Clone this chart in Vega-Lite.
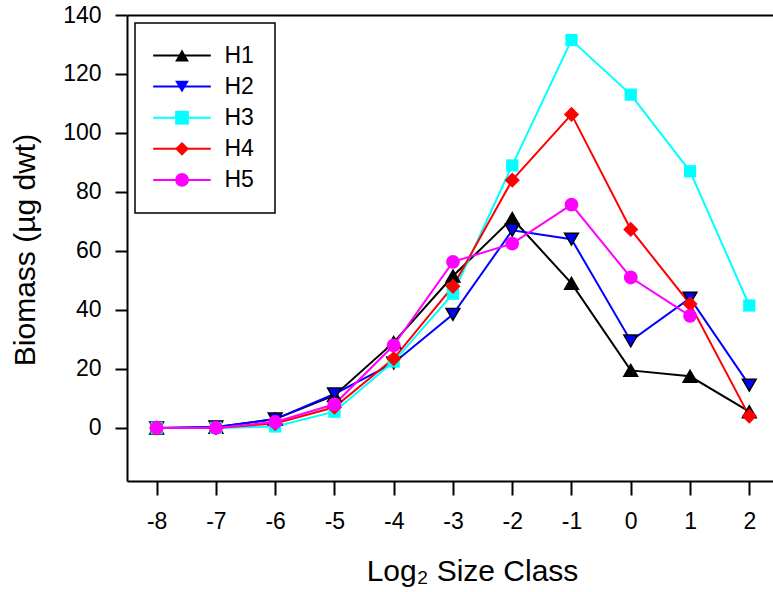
{
  "$schema": "https://vega.github.io/schema/vega-lite/v6.json",
  "autosize": {"type": "none"},
  "padding": {"left": 127, "top": 15, "right": 0, "bottom": 111},
  "width": 646,
  "height": 466,
  "config": {
    "view": {"stroke": null},
    "font": "Liberation Sans",
    "axis": {"labelFont": "Liberation Sans", "titleFont": "Liberation Sans", "labelColor": "#000", "titleColor": "#000", "domainColor": "#000", "tickColor": "#000", "grid": false, "titleFontWeight": "normal"},
    "legend": {"labelFont": "Liberation Sans", "labelColor": "#000"}
  },
  "data": {"values": [
    {"x": -8, "series": "H1", "y": 0}, {"x": -7, "series": "H1", "y": 0.2}, {"x": -6, "series": "H1", "y": 3}, {"x": -5, "series": "H1", "y": 11}, {"x": -4, "series": "H1", "y": 29}, {"x": -3, "series": "H1", "y": 51.5}, {"x": -2, "series": "H1", "y": 71}, {"x": -1, "series": "H1", "y": 49}, {"x": 0, "series": "H1", "y": 19.5}, {"x": 1, "series": "H1", "y": 17.5}, {"x": 2, "series": "H1", "y": 5.5},
    {"x": -8, "series": "H2", "y": 0}, {"x": -7, "series": "H2", "y": 0.3}, {"x": -6, "series": "H2", "y": 3}, {"x": -5, "series": "H2", "y": 11.5}, {"x": -4, "series": "H2", "y": 22}, {"x": -3, "series": "H2", "y": 38.5}, {"x": -2, "series": "H2", "y": 67}, {"x": -1, "series": "H2", "y": 64}, {"x": 0, "series": "H2", "y": 29.5}, {"x": 1, "series": "H2", "y": 44}, {"x": 2, "series": "H2", "y": 14.5},
    {"x": -8, "series": "H3", "y": 0}, {"x": -7, "series": "H3", "y": 0}, {"x": -6, "series": "H3", "y": 0.5}, {"x": -5, "series": "H3", "y": 5.5}, {"x": -4, "series": "H3", "y": 22.5}, {"x": -3, "series": "H3", "y": 45.5}, {"x": -2, "series": "H3", "y": 89}, {"x": -1, "series": "H3", "y": 131.5}, {"x": 0, "series": "H3", "y": 113}, {"x": 1, "series": "H3", "y": 87}, {"x": 2, "series": "H3", "y": 41.5},
    {"x": -8, "series": "H4", "y": 0}, {"x": -7, "series": "H4", "y": 0}, {"x": -6, "series": "H4", "y": 1.5}, {"x": -5, "series": "H4", "y": 7}, {"x": -4, "series": "H4", "y": 23.5}, {"x": -3, "series": "H4", "y": 48}, {"x": -2, "series": "H4", "y": 84}, {"x": -1, "series": "H4", "y": 106.3}, {"x": 0, "series": "H4", "y": 67.3}, {"x": 1, "series": "H4", "y": 42}, {"x": 2, "series": "H4", "y": 4},
    {"x": -8, "series": "H5", "y": 0}, {"x": -7, "series": "H5", "y": 0}, {"x": -6, "series": "H5", "y": 2}, {"x": -5, "series": "H5", "y": 8}, {"x": -4, "series": "H5", "y": 28}, {"x": -3, "series": "H5", "y": 56.3}, {"x": -2, "series": "H5", "y": 62.5}, {"x": -1, "series": "H5", "y": 75.7}, {"x": 0, "series": "H5", "y": 51}, {"x": 1, "series": "H5", "y": 38}
  ]},
  "resolve": {"axis": {"x": "independent"}},
  "layer": [
    {
      "mark": {"type": "line", "strokeWidth": 2},
      "encoding": {
        "x": {"field": "x", "type": "quantitative",
          "scale": {"domain": [-8.5, 2.4], "nice": false, "zero": false},
          "axis": {"orient": "bottom", "values": [-8, -7, -6, -5, -4, -3, -2, -1, 0, 1, 2], "labelExpr": "datum.value < 0 ? '-' + abs(datum.value) : '' + datum.value", "tickSize": 14, "tickWidth": 2, "domainWidth": 2, "labelFontSize": 23, "labelPadding": 15, "labelFlush": false, "labelOverlap": false, "title": "Log₂ Size Class", "titleFontSize": 30, "titleX": 345, "titleY": 99, "titleBaseline": "alphabetic", "titleAlign": "center", "titleAnchor": null}},
        "y": {"field": "y", "type": "quantitative",
          "scale": {"domain": [-18, 140], "nice": false, "zero": false},
          "axis": {"values": [0, 20, 40, 60, 80, 100, 120, 140], "tickSize": 12, "tickWidth": 2, "domainWidth": 2, "labelFontSize": 23, "labelPadding": 14, "labelFlush": false, "labelOverlap": false, "title": "Biomass (µg dwt)", "titleFontSize": 30, "titleX": -92.5, "titleY": 234.5, "titleAngle": -90, "titleBaseline": "alphabetic", "titleAlign": "center"}},
        "color": {"field": "series", "type": "nominal",
          "scale": {"domain": ["H1", "H2", "H3", "H4", "H5"], "range": ["#000000", "#0000ff", "#00ffff", "#ff0000", "#ff00ff"]},
          "legend": {"title": null, "orient": "top-left", "offset": 8, "padding": 21, "rowPadding": 7.1, "strokeColor": "#000", "symbolType": "M-3.6,0H3.6", "symbolSize": 256, "symbolStrokeWidth": 2, "symbolOffset": 14.5, "labelOffset": 31, "labelFontSize": 23, "labelLimit": 200,
            "encode": {"legend": {"update": {"strokeWidth": {"value": 1.5}}}}}}
      }
    },
    {
      "mark": {"type": "point", "filled": true, "opacity": 1, "strokeWidth": 1.5},
      "encoding": {
        "x": {"field": "x", "type": "quantitative",
          "scale": {"domain": [-8.5, 2.4], "nice": false, "zero": false},
          "axis": {"orient": "top", "ticks": false, "labels": false, "title": null, "domainWidth": 2}},
        "y": {"field": "y", "type": "quantitative"},
        "fill": {"field": "series", "type": "nominal",
          "scale": {"domain": ["H1", "H2", "H3", "H4", "H5"], "range": ["#000000", "#0000ff", "#00ffff", "#ff0000", "#ff00ff"]},
          "legend": null},
        "shape": {"field": "series", "type": "nominal",
          "scale": {"domain": ["H1", "H2", "H3", "H4", "H5"], "range": ["triangle-up", "triangle-down", "square", "diamond", "circle"]},
          "legend": {"title": null, "orient": "none", "legendX": 8, "legendY": 8, "padding": 21, "rowPadding": 7.1, "symbolSize": 190, "symbolStrokeWidth": 1.5, "symbolOffset": 14.5, "labelOffset": 31, "labelFontSize": 23, "labelOpacity": 0,
            "encode": {"symbols": {"update": {
              "fill": {"signal": "datum.value==='H1'?'#000000':datum.value==='H2'?'#0000ff':datum.value==='H3'?'#00ffff':datum.value==='H4'?'#ff0000':'#ff00ff'"},
              "stroke": {"signal": "datum.value==='H1'||datum.value==='H2'?'#000000':'transparent'"},
              "opacity": {"value": 1}
            }}}}},
        "stroke": {"condition": {"test": "datum.series==='H1'||datum.series==='H2'", "value": "#000000"}, "value": "transparent"},
        "size": {"condition": [{"test": "datum.series==='H3'", "value": 150}, {"test": "datum.series==='H4'", "value": 230}], "value": 190}
      }
    }
  ]
}
